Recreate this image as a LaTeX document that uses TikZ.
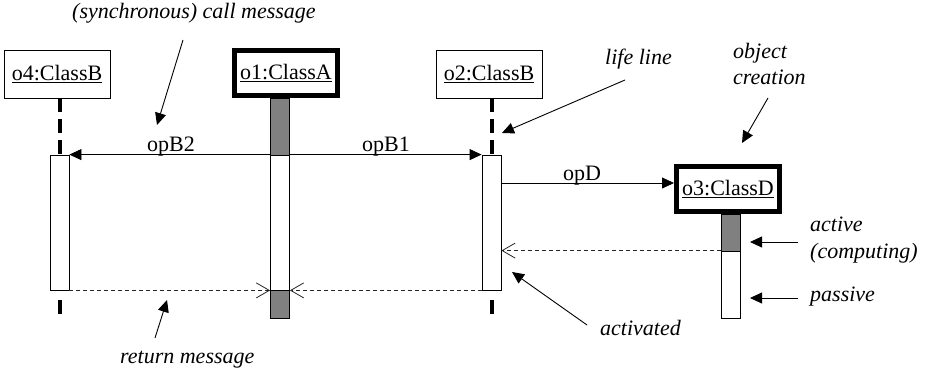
\documentclass[tikz,border=0pt]{standalone}
\usepackage{fontspec}
\setmainfont{Liberation Serif}
\usetikzlibrary{arrows.meta,calc}
\definecolor{actgray}{HTML}{808080}
\begin{document}
\begin{tikzpicture}[x=1pt,y=-1pt,
  every node/.style={font=\fontsize{22}{26.4}\selectfont},
  objbox/.style={draw, line width=0.9pt, inner sep=0pt, minimum width=106, minimum height=48},
  newbox/.style={draw, line width=5pt, inner sep=0pt, minimum width=103, minimum height=45},
  actbox/.style={draw, line width=0.8pt, fill=white, inner sep=0pt, minimum width=19},
  busy/.style={actbox, fill=actgray},
  life/.style={line width=4pt, dash pattern=on 14pt off 7pt},
  call/.style={line width=0.8pt, -{Triangle[length=12pt,width=11pt]}},
  ret/.style={line width=0.8pt, black!85, dash pattern=on 4pt off 3pt, -{Straight Barb[length=13pt,width=15pt,line width=0.8pt]}},
  note/.style={font=\fontsize{22}{26.4}\selectfont\itshape, inner sep=0pt, anchor=base west},
  lbl/.style={inner sep=0pt, anchor=base west},
  pointer/.style={line width=0.9pt, -{Triangle[length=12pt,width=11pt]}}]
\useasboundingbox (0,0) rectangle (925,374);

% objects
\node[objbox] (o4) at (57,74) {\underline{o4:ClassB}};
\node[newbox] (o1) at (286,73) {\underline{o1:ClassA}};
\node[objbox] (o2) at (489,74) {\underline{o2:ClassB}};
\node[newbox] (o3) at (728,189) {\underline{o3:ClassD}};

% lifelines
\coordinate (l4) at (60,0);
\coordinate (l2) at (492,0);
\draw[life] (l4 |- o4.south) -- (l4 |- 0,155);
\draw[life] (l4 |- 0,300) -- (l4 |- 0,315);
\draw[life] (l2 |- o2.south) -- (l2 |- 0,155);
\draw[life] (l2 |- 0,300) -- (l2 |- 0,315);

% activations
\node[actbox, minimum height=135] (a4) at (59.5,222.5) {};
\node[busy, minimum height=57] (a1t) at (280,126.5) {};
\node[actbox, minimum height=135] (a1) at (280,222.5) {};
\node[busy, minimum height=28] (a1b) at (280,304) {};
\node[actbox, minimum height=135] (a2) at (491.5,222.5) {};
\node[busy, minimum height=37] (c3t) at (730.5,232.5) {};
\node[actbox, minimum height=67] (c3) at (730.5,284.5) {};

% messages
\draw[call] (a1.north west) -- (a4.north east);
\draw[call] (a1.north east) -- (a2.north west);
\coordinate (dS) at (a2.east |- 0,183);
\draw[call] (dS) -- (dS -| o3.west);
\draw[ret] (c3.north west) -- (c3.north west -| a2.east);
\draw[ret] (a2.south west) -- (a1.south east);
\draw[ret] (a4.south east) -- (a1.south west);

\node[lbl] (lB2) at (147,152) {opB2};
\node[lbl] (lB1) at (362,152) {opB1};
\node[lbl] (lD) at (563,180) {opD};

% annotations
\node[note] (tCall) at (72,19) {(synchronous) call message};
\node[note] (tLife) at (605,65) {life line};
\node[note, align=left, anchor=north west] (tCreate) at (733,43) {object\\creation};
\node[note, align=left, anchor=north west] (tActive) at (810,217) {active\\(computing)};
\node[note] (tPassive) at (810,301) {passive};
\node[note] (tActivated) at (600,335) {activated};
\node[note] (tReturn) at (120,363) {return message};

\coordinate (cCallS) at (183,40);   \coordinate (cCallE) at (157,125);
\coordinate (cLifeS) at (625,80);   \coordinate (cLifeE) at (502,133);
\coordinate (cCreS) at (768,98);    \coordinate (cCreE) at (742,143);
\coordinate (cActS) at (798,242);   \coordinate (cActE) at (750,242);
\coordinate (cPasS) at (798,298);   \coordinate (cPasE) at (750,298);
\coordinate (cAtdS) at (587,325);   \coordinate (cAtdE) at (512,272);
\coordinate (cRetS) at (155,338);   \coordinate (cRetE) at (167,300);
\draw[pointer] (cCallS) -- (cCallE);
\draw[pointer] (cLifeS) -- (cLifeE);
\draw[pointer] (cCreS) -- (cCreE);
\draw[pointer] (cActS) -- (cActE);
\draw[pointer] (cPasS) -- (cPasE);
\draw[pointer] (cAtdS) -- (cAtdE);
\draw[pointer] (cRetS) -- (cRetE);
\end{tikzpicture}
\end{document}
